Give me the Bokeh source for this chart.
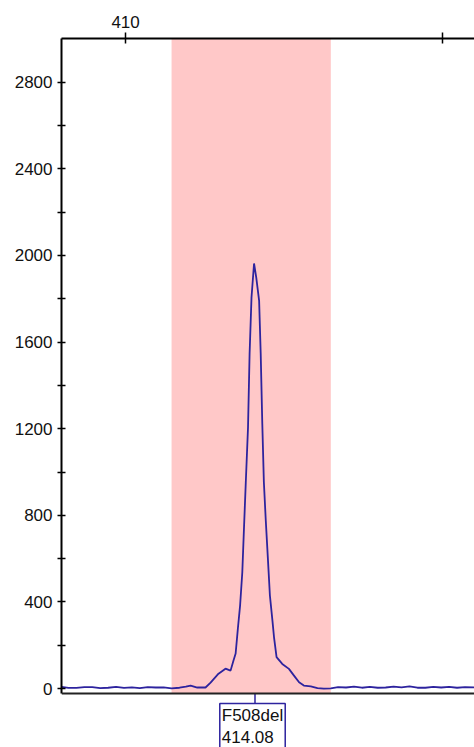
from bokeh.plotting import figure
from bokeh.models import (LinearAxis, FixedTicker, Range1d, BoxAnnotation,
                          Label, Span)
from bokeh.embed import file_html
from bokeh.resources import INLINE

# ---- data ----
size_bp = [407.98, 408.2, 408.45, 408.7, 408.95, 409.2, 409.45, 409.7, 409.95,
           410.2, 410.45, 410.7, 410.95, 411.2, 411.45, 411.7, 411.9,
           412.05, 412.26, 412.52, 412.68, 412.93, 413.15, 413.31, 413.40,
           413.47, 413.54, 413.61, 413.68, 413.73, 413.79, 413.86, 413.91,
           413.97, 414.05, 414.12, 414.21, 414.26, 414.31, 414.36, 414.42,
           414.49, 414.55, 414.63, 414.68, 414.76, 414.94, 415.15, 415.31,
           415.47, 415.62, 415.84, 416.05, 416.25, 416.47, 416.7, 416.95,
           417.2, 417.45, 417.7, 417.95, 418.2, 418.45, 418.7, 418.95,
           419.2, 419.45, 419.7, 419.95, 420.2, 420.45, 420.7, 421.0]
rfu = [8, 3, 3, 7, 7, 2, 4, 8, 3,
       6, 2, 7, 5, 6, 1, 4, 9,
       14, 5, 5, 28, 69, 92, 83, 129,
       162, 277, 383, 537, 730, 953, 1206, 1547,
       1806, 1963, 1898, 1792, 1547, 1224, 953, 776,
       591, 430, 314, 237, 145, 114, 91, 60,
       29, 14, 10, 2, 0, 1, 7, 5,
       9, 4, 8, 4, 5, 9, 6, 10,
       4, 4, 8, 5, 8, 4, 7, 6]

bin_left = 411.45
bin_right = 416.47
peak_name = "F508del"
peak_size = 414.08
top_ticks = [410, 420]
top_labels = {410: "410", 420: ""}
y_major = [0, 400, 800, 1200, 1600, 2000, 2400, 2800]
y_minor = [200, 600, 1000, 1400, 1800, 2200, 2600]

# ---- layout constants ----
X0, X1 = 407.98, 421.0
Y_AXIS = -23          # level of the bottom axis line
Y_TOP = 3002
Y_BOTTOM = -272       # canvas bottom (room for the peak label box)
Y_BOX = -69           # top of the peak label box

FONT = "Liberation Sans"
LINE = "#2d239e"

p = figure(width=474, height=747, output_backend="svg", toolbar_location=None,
           x_axis_location=None, y_axis_location=None,
           x_range=Range1d(X0, X1), y_range=Range1d(Y_BOTTOM, Y_TOP),
           min_border_left=61, min_border_right=0, min_border_top=38,
           min_border_bottom=0)
p.outline_line_color = None
p.xgrid.visible = False
p.ygrid.visible = False
p.background_fill_color = "white"
p.border_fill_color = "white"

band = BoxAnnotation(left=bin_left, right=bin_right, bottom=Y_AXIS,
                     fill_color="#ffc8c8", fill_alpha=1.0, line_color=None,
                     level="underlay")
p.add_layout(band)

p.line(size_bp, rfu, line_color=LINE, line_width=1.8)

# left axis
yax = LinearAxis(ticker=FixedTicker(ticks=y_major, minor_ticks=y_minor),
                 bounds=(Y_AXIS, Y_TOP))
yax.axis_line_color = "black"
yax.axis_line_width = 2
yax.major_tick_in = 4
yax.major_tick_out = 4
yax.minor_tick_in = 4
yax.minor_tick_out = 4
yax.major_tick_line_width = 1.5
yax.minor_tick_line_width = 1.5
yax.major_label_text_font = FONT
yax.major_label_text_font_size = "17px"
yax.major_label_text_color = "#111111"
yax.major_label_standoff = 5
p.add_layout(yax, "left")

# top axis
tax = LinearAxis(ticker=FixedTicker(ticks=top_ticks, minor_ticks=[]),
                 major_label_overrides=top_labels)
tax.axis_line_color = "black"
tax.axis_line_width = 2
tax.major_tick_in = 5
tax.major_tick_out = 6
tax.major_tick_line_width = 1.5
tax.minor_tick_line_color = None
tax.major_label_text_font = FONT
tax.major_label_text_font_size = "17px"
tax.major_label_text_color = "#111111"
tax.major_label_standoff = 5
p.add_layout(tax, "above")

# bottom axis line
p.add_layout(Span(location=Y_AXIS, dimension="width", line_color="#222222",
                  line_width=2))

# peak marker tick and label box
p.segment(x0=[peak_size], y0=[Y_AXIS], x1=[peak_size], y1=[Y_BOX],
          line_color=LINE, line_width=1.5)

lab = Label(x=412.97, y=Y_BOX, text=f"{peak_name}\n{peak_size:.2f}",
            text_font=FONT, text_font_size="17px", text_color="#111111",
            text_align="left", text_baseline="top",
            border_line_color=LINE, border_line_width=1.5,
            background_fill_color="white", background_fill_alpha=1.0,
            padding=2)
p.add_layout(lab)

open("out.html", "w").write(file_html(p, INLINE))
